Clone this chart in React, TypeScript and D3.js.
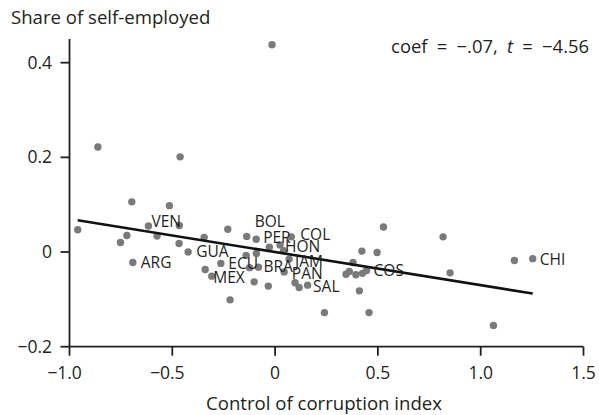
import * as d3 from "d3";

// control of corruption index (x) vs share of self-employed (y)
const corruption = [
  -0.96, -0.862, -0.697, -0.514, -0.462, -0.616, -0.721, -0.752, -0.574, -0.466,
  -0.467, -0.423, -0.692, -0.345, -0.34, -0.308, -0.264, -0.23, -0.219, -0.138,
  -0.092, -0.141, -0.124, -0.102, -0.091, -0.081, -0.033, -0.028, 0.024, 0.041,
  0.079, 0.068, 0.044, 0.097, 0.117, 0.158, 0.24, 0.379, 0.345, 0.361,
  0.393, 0.425, 0.445, 0.422, 0.496, 0.527, 0.41, 0.457, 0.817, 0.851,
  1.062, 1.164, 1.253, -0.015,
];
const selfEmployed = [
  0.047, 0.222, 0.106, 0.098, 0.201, 0.055, 0.035, 0.02, 0.034, 0.056,
  0.018, 0.0, -0.022, 0.031, -0.037, -0.051, -0.024, 0.048, -0.101, 0.033,
  0.027, -0.007, -0.033, -0.063, -0.003, -0.032, -0.072, 0.01, 0.015, 0.003,
  0.032, -0.015, -0.042, -0.065, -0.075, -0.07, -0.128, -0.022, -0.047, -0.041,
  -0.048, -0.045, -0.039, 0.002, -0.001, 0.053, -0.082, -0.128, 0.032, -0.044,
  -0.155, -0.018, -0.014, 0.438,
];
const countryCode = [
  "", "", "", "", "", "VEN", "", "", "", "",
  "", "GUA", "ARG", "", "MEX", "", "ECU", "", "", "BOL",
  "PER", "", "", "", "", "BRA", "", "", "HON", "",
  "COL", "JAM", "PAN", "", "", "SAL", "", "", "", "",
  "", "", "COS", "", "", "", "", "", "", "",
  "", "", "CHI", "",
];

const fitIntercept = 0.0;
const fitSlope = -0.07;
const xTicks = [-1, -0.5, 0, 0.5, 1, 1.5];
const yTicks = [-0.2, 0, 0.2, 0.4];

// label placement relative to its dot (px)
const labelNudge: Record<string, [number, number]> = {
  VEN: [3, -4], GUA: [8, 0], ARG: [8, 0], MEX: [8, 8], ECU: [7.5, 0],
  BOL: [8, -14.5], PER: [7, -2], BRA: [5, -0.5], HON: [5, 1.7], COL: [9, -2],
  JAM: [6, 2], PAN: [7.7, 1.6], SAL: [5.5, 1.7], COS: [7, 0], CHI: [7, 0.5],
};

const W = 599;
const H = 415;
const FONT = "'Open Sans', 'Noto Sans', sans-serif";
const INK = "#231f20";

const fmt = (v: number, digits: number) =>
  v === 0 ? "0" : Math.abs(v).toFixed(digits);

export default function App() {
  const x = d3.scaleLinear().domain([-1, 1.5]).range([69.5, 583.5]);
  const y = d3.scaleLinear().domain([-0.2, 0.45]).range([346.7, 39]);

  const points = corruption.map((cx, i) => ({
    cx, cy: selfEmployed[i], code: countryCode[i],
  }));
  const [xMin, xMax] = d3.extent(corruption) as [number, number];
  const fitLine = d3.line<number>()
    .x((d) => x(d))
    .y((d) => y(fitIntercept + fitSlope * d));

  const x0 = x(-1);
  const yBase = y(-0.2);

  return (
    <svg width={W} height={H} style={{ position: "absolute", left: 0, top: 0 }}
      fontFamily={FONT} fill={INK}>
      <text x={11} y={24} fontSize={18.6}>Share of self-employed</text>
      <text x={589} y={53} fontSize={18.4} textAnchor="end" wordSpacing={4.5}>
        coef = −.07, <tspan fontStyle="italic">t</tspan> = −4.56
      </text>

      {/* axes */}
      <line x1={x0} x2={x0} y1={y(0.45)} y2={yBase} stroke={INK} strokeWidth={1.8} />
      <line x1={x0} x2={x(1.5)} y1={yBase} y2={yBase} stroke={INK} strokeWidth={1.8} />
      {yTicks.map((t) => (
        <g key={t}>
          <line x1={x0 - 9} x2={x0} y1={y(t)} y2={y(t)} stroke={INK} strokeWidth={1.8} />
          <text x={52} y={y(t)} dy="0.35em" fontSize={17.5} textAnchor="end">
            {(t < 0 ? "−" : "") + fmt(t, 1)}
          </text>
        </g>
      ))}
      {xTicks.map((t) => (
        <g key={t}>
          <line x1={x(t)} x2={x(t)} y1={yBase} y2={yBase + 9} stroke={INK} strokeWidth={1.8} />
          <text x={x(t)} y={379} fontSize={17.5} textAnchor="middle">{fmt(t, 1)}</text>
          {t < 0 && (
            <text x={x(t) - 12} y={379} fontSize={17.5} textAnchor="end">−</text>
          )}
        </g>
      ))}
      <text x={324} y={410} fontSize={18.6} textAnchor="middle">Control of corruption index</text>

      {/* points */}
      {points.map((p, i) => (
        <circle key={i} cx={x(p.cx)} cy={y(p.cy)} r={3.7} fill="#7a7a7a" />
      ))}

      {/* fitted line */}
      <path d={fitLine([xMin, xMax]) ?? ""} fill="none" stroke="#111" strokeWidth={2.6} />

      {/* country labels */}
      {points.filter((p) => p.code).map((p) => {
        const [dx, dy] = labelNudge[p.code] ?? [7, 0];
        return (
          <text key={p.code} x={x(p.cx) + dx} y={y(p.cy) + dy} dy="0.35em" fontSize={15.5}>
            {p.code}
          </text>
        );
      })}
    </svg>
  );
}
